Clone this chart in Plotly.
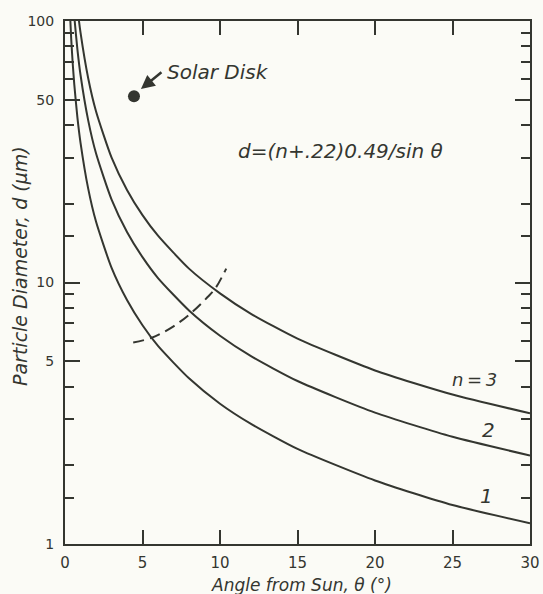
import math
import plotly.graph_objects as go

# Angle from Sun (degrees) at which the curves were read
theta = [0.3, 0.4, 0.5, 0.6, 0.8, 1, 1.5, 2, 3, 4, 5, 6, 8, 10, 12, 15, 20, 25, 30]
# Particle diameter d (um) for each order n
d_n1 = [114, 85.6, 68.5, 57.1, 42.8, 34.3, 22.8, 17.1, 11.4, 8.57, 6.86, 5.72, 4.30, 3.44, 2.88, 2.31, 1.75, 1.41, 1.20]
d_n2 = [208, 156, 125, 104, 77.9, 62.3, 41.6, 31.2, 20.8, 15.6, 12.5, 10.4, 7.82, 6.26, 5.23, 4.20, 3.18, 2.57, 2.18]
d_n3 = [301, 226, 181, 151, 113, 90.4, 60.3, 45.2, 30.1, 22.6, 18.1, 15.1, 11.3, 9.09, 7.59, 6.10, 4.61, 3.73, 3.16]

# dashed boundary curve
dash_theta = [4.4, 5.6, 7.0, 8.2, 9.2, 9.7, 10.4]
dash_d = [5.9, 6.15, 6.8, 7.7, 8.8, 9.5, 11.3]

# solar disk point
sun_theta = [4.45]
sun_d = [51.6]

x_ticks = [0, 5, 10, 15, 20, 25, 30]
y_major = [1, 5, 10, 50, 100]
y_minor = [1.5, 2, 3, 4, 6, 7, 8, 9, 15, 20, 30, 40, 60, 70, 80, 90]

INK = "#343630"
BG = "#fbfbf6"
FONT = "DejaVu Sans"

fig = go.Figure()
for d in (d_n1, d_n2, d_n3):
    fig.add_trace(go.Scatter(x=theta, y=d, mode="lines",
                             line=dict(color=INK, width=2, shape="spline", smoothing=0.6),
                             showlegend=False, hoverinfo="skip"))
fig.add_trace(go.Scatter(x=dash_theta, y=dash_d, mode="lines",
                         line=dict(color=INK, width=2, dash="11px,6px", shape="spline"),
                         showlegend=False, hoverinfo="skip"))
fig.add_trace(go.Scatter(x=sun_theta, y=sun_d, mode="markers",
                         marker=dict(color=INK, size=12),
                         showlegend=False, hoverinfo="skip"))

fig.update_layout(
    width=543, height=594,
    margin=dict(l=65, r=13, t=21, b=50, autoexpand=False),
    paper_bgcolor=BG, plot_bgcolor=BG,
    font=dict(family=FONT, color=INK, size=14),
    xaxis=dict(range=[0, 30], tickvals=x_ticks, ticktext=[str(v) for v in x_ticks],
               ticks="inside", ticklen=14, tickwidth=1.5, tickcolor=INK,
               showline=True, linecolor=INK, linewidth=2, mirror="ticks",
               showgrid=False, zeroline=False, tickfont=dict(size=15),
               ticklabelstandoff=4, automargin=False),
    yaxis=dict(type="log", range=[0, 2], tickvals=y_major,
               ticktext=[str(v) for v in y_major],
               ticks="inside", ticklen=15, tickwidth=1.5, tickcolor=INK,
               showline=True, linecolor=INK, linewidth=2, mirror="ticks",
               showgrid=False, zeroline=False, tickfont=dict(size=14),
               ticklabelstandoff=6, automargin=False,
               minor=dict(tickvals=y_minor, ticks="inside", ticklen=9,
                          tickwidth=1.5, tickcolor=INK, showgrid=False)),
)

L = math.log10
annots = [
    # arrow only
    dict(x=4.9, y=L(54.9), xref="x", yref="y", text="", showarrow=True,
         ax=22, ay=-18, arrowhead=2, arrowsize=1.1, arrowwidth=2.5, arrowcolor=INK),
    dict(x=6.45, y=1.805, xref="x", yref="y", text="<i>Solar Disk</i>",
         showarrow=False, xanchor="left", yanchor="middle", font=dict(size=20)),
    dict(x=17.8, y=1.502, xref="x", yref="y", text="<i>d=(n+.22)0.49/sin θ</i>",
         showarrow=False, xanchor="center", yanchor="middle", font=dict(size=20)),
    dict(x=26.45, y=0.628, xref="x", yref="y", text="<i>n\u2009=\u20093</i>",
         showarrow=False, font=dict(size=18)),
    dict(x=27.35, y=0.437, xref="x", yref="y", text="<i>2</i>",
         showarrow=False, font=dict(size=20)),
    dict(x=27.2, y=0.184, xref="x", yref="y", text="<i>1</i>",
         showarrow=False, font=dict(size=20)),
    dict(x=(301 - 65) / 465, y=-(585 - 544) / 523, xref="paper", yref="paper",
         text="<i>Angle from Sun, θ (°)</i>", showarrow=False,
         xanchor="center", yanchor="middle", font=dict(size=17)),
    dict(x=-(65 - 20) / 465, y=(544 - 266) / 523, xref="paper", yref="paper",
         text="<i>Particle Diameter, d (μm)</i>", showarrow=False, textangle=-90,
         xanchor="center", yanchor="middle", font=dict(size=19)),
]
fig.update_layout(annotations=annots)

fig.write_html(
    "out.html",
    config={"displayModeBar": False},
    post_script="document.body.style.margin='0';document.body.style.background='#fbfbf6';"
                "document.documentElement.style.background='#fbfbf6';"
                "document.body.style.overflow='hidden';",
)
